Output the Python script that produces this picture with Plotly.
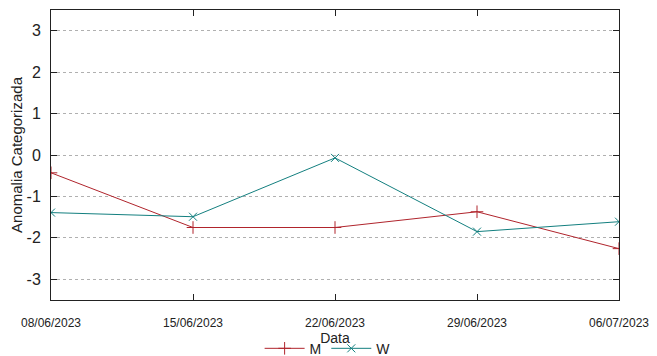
import plotly.graph_objects as go

dates = ["2023-06-08", "2023-06-15", "2023-06-22", "2023-06-29", "2023-07-06"]
m_values = [-0.43, -1.75, -1.75, -1.37, -2.26]
w_values = [-1.39, -1.49, -0.07, -1.85, -1.61]
y_ticks = [-3, -2, -1, 0, 1, 2, 3]
y_tick_text = ["-3", "-2", "-1", "0", "1", "2", "3"]

fig = go.Figure()
fig.add_trace(go.Scatter(x=dates, y=m_values, name="M", mode="lines+markers",
                         line=dict(color="#b0242c", width=1),
                         marker=dict(symbol="cross-thin", size=9, line=dict(color="#b0242c", width=1))))
fig.add_trace(go.Scatter(x=dates, y=w_values, name="W", mode="lines+markers",
                         line=dict(color="#137f7f", width=1),
                         marker=dict(symbol="x-thin", size=8, line=dict(color="#137f7f", width=1))))

# page body has an 8px margin, so the figure is 649x348 and offset by 8px
fig.update_layout(
    width=649, height=348,
    margin=dict(l=43, r=38, t=2, b=56, autoexpand=False),
    paper_bgcolor="white", plot_bgcolor="white",
    font=dict(family="Liberation Sans, Arial, sans-serif", color="#222222"),
    showlegend=True,
    legend=dict(orientation="h", x=0.487, xanchor="center", y=-0.168, yanchor="middle",
                font=dict(size=14), bgcolor="rgba(0,0,0,0)", itemwidth=40,
                tracegroupgap=0, borderwidth=0),
)
fig.update_xaxes(
    type="date", range=[dates[0], dates[-1]],
    tickvals=dates, tickformat="%d/%m/%Y", automargin=False,
    tickfont=dict(size=12), ticks="inside", ticklen=6, tickcolor="#222",
    showline=True, linecolor="#222", linewidth=1, mirror="ticks",
    showgrid=False, zeroline=False, ticklabelstandoff=12,
    title=dict(text="Data", font=dict(size=14), standoff=0),
)
fig.update_yaxes(
    range=[-3.5, 3.5], tickvals=y_ticks, ticktext=y_tick_text, automargin=False,
    tickfont=dict(size=16), ticks="inside", ticklen=6, tickcolor="#222",
    showline=True, linecolor="#222", linewidth=1, mirror="ticks",
    showgrid=True, gridcolor="#b0b0b0", griddash="dot", gridwidth=1,
    zeroline=False, ticklabelstandoff=6,
    title=dict(text="Anomalia Categorizada", font=dict(size=15), standoff=6),
)
fig.write_html("out.html")
